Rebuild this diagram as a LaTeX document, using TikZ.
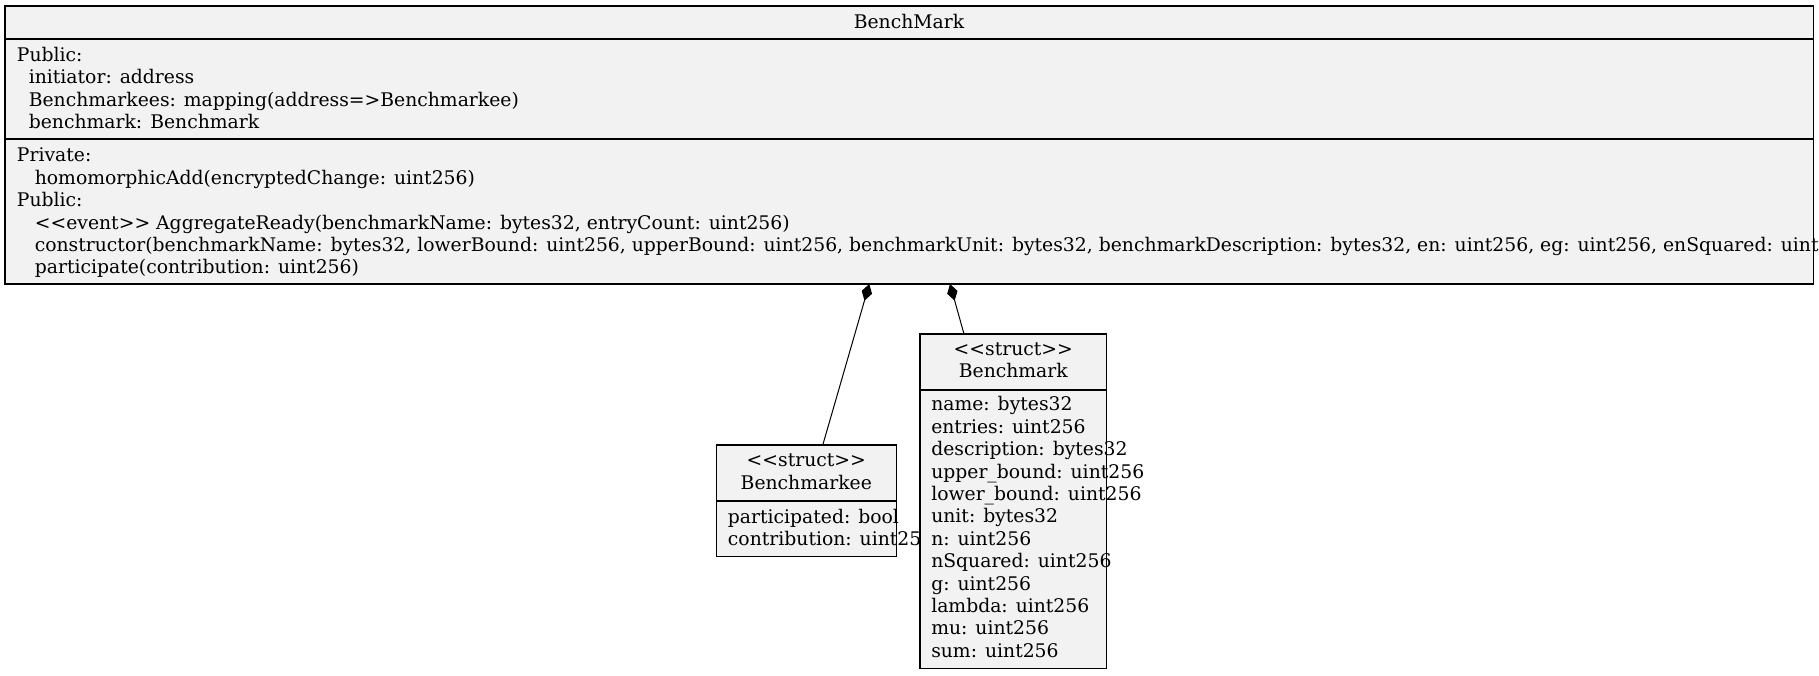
\documentclass[tikz,border=0pt]{standalone}
\usepackage{fontspec}
\usepackage{xcolor}
\usepackage{tikz}
\usetikzlibrary{arrows.meta}
\newfontfamily\umlfont{DejaVu Serif}
\newcommand{\umlsize}{\fontsize{14.08bp}{16.8bp}\selectfont}
\newcommand{\attrind}{\hspace*{8.9bp}}
\newcommand{\methind}{\hspace*{13.4bp}}
\definecolor{boxgray}{HTML}{F2F2F2}

\begin{document}
\begin{tikzpicture}[x=0.75bp, y=-0.75bp,
  classbox/.style={draw, fill=boxgray, line width=0.8bp, rectangle, anchor=north west, inner sep=0pt, outer sep=0pt},
  members/.style={anchor=north west, align=left, inner sep=0pt, font=\umlfont\umlsize},
  classname/.style={anchor=north, align=center, inner sep=0pt, font=\umlfont\umlsize},
  owns/.style={line width=0.75bp, -{Diamond[length=13bp, width=8bp]}}]

\useasboundingbox (0,0) rectangle (1819,675);

% Classe BenchMark
\node[classbox, minimum width=1356bp, minimum height=208.5bp] (bm) at (5,6) {};
\draw[line width=0.8bp] (bm.west |- 0,39) -- (bm.east |- 0,39);
\draw[line width=0.8bp] (bm.west |- 0,139) -- (bm.east |- 0,139);
\node[anchor=base, inner sep=0pt, font=\umlfont\umlsize] (bmTitle) at (909,28) {BenchMark};
\node[members] (bmAttrs) at (16.7,45.3) {\strut Public:\\
  \attrind initiator: address\\
  \attrind Benchmarkees: mapping(address=>Benchmarkee)\\
  \attrind benchmark: Benchmark};
\node[members] (bmOps) at (16.7,146) {\strut Private:\\
  \methind homomorphicAdd(encryptedChange: uint256)\\
  Public:\\
  \methind <<event>> AggregateReady(benchmarkName: bytes32, entryCount: uint256)\\
  \methind constructor(benchmarkName: bytes32, lowerBound: uint256, upperBound: uint256, benchmarkUnit: bytes32, benchmarkDescription: bytes32, en: uint256, eg: uint256, enSquared: uint\\
  \methind participate(contribution: uint256)};

% Struct Benchmarkee
\node[classbox, minimum width=134.5bp, minimum height=83.8bp] (kee) at (716.7,445) {};
\draw[line width=0.8bp] (kee.west |- 0,501) -- (kee.east |- 0,501);
\node[classname] (keeTitle) at (806.3,451) {\strut<<struct>>\\Benchmarkee};
\node[members] (keeFields) at (727.7,507.6) {\strut participated: bool\\
  contribution: uint256};

% Struct Benchmark
\node[classbox, minimum width=140bp, minimum height=250.7bp] (bench) at (920,334) {};
\draw[line width=0.8bp] (bench.west |- 0,390) -- (bench.east |- 0,390);
\node[classname] (benchTitle) at (1013.3,339.3) {\strut<<struct>>\\Benchmark};
\node[members] (benchFields) at (931,395) {\strut name: bytes32\\
  entries: uint256\\
  description: bytes32\\
  upper\_bound: uint256\\
  lower\_bound: uint256\\
  unit: bytes32\\
  n: uint256\\
  nSquared: uint256\\
  g: uint256\\
  lambda: uint256\\
  mu: uint256\\
  sum: uint256};

% Composizione
\draw[owns] ([xshift=12.3bp]kee.north) -- ([xshift=-29.8bp]bm.south);
\draw[owns] ([xshift=-37bp]bench.north) -- ([xshift=30.75bp]bm.south);
\end{tikzpicture}
\end{document}
